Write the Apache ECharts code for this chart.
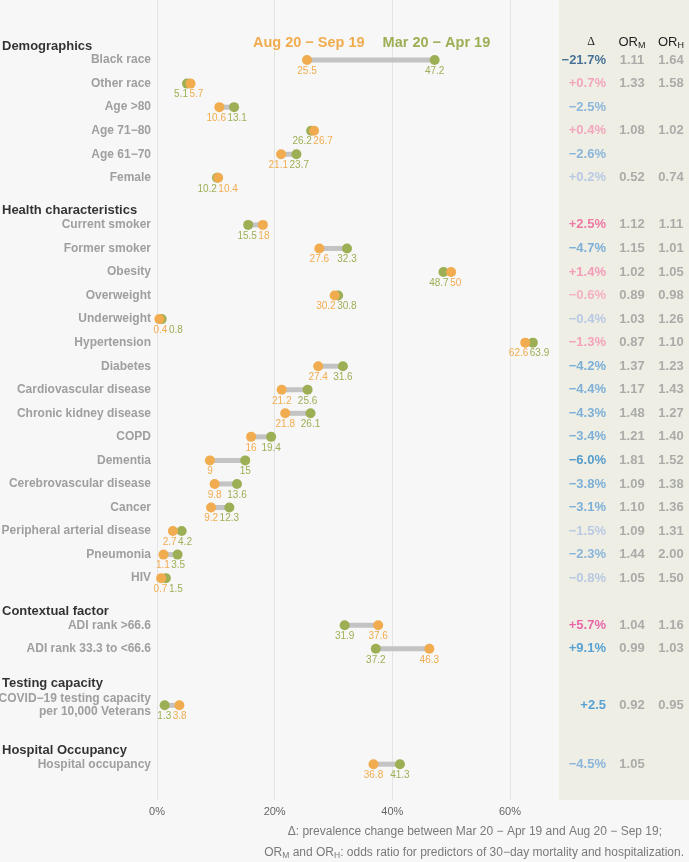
<!DOCTYPE html>
<html>
<head>
<meta charset="utf-8">
<script src="https://cdn.jsdelivr.net/npm/echarts@6/dist/echarts.min.js"></script>
<style>
  html, body { margin: 0; padding: 0; background: #f7f7f7; }
  #chart { width: 689px; height: 862px; }
</style>
</head>
<body>
<div id="chart"></div>
<script>
  // ---- data ----
  const groups = ['Demographics', 'Health characteristics', 'Contextual factor', 'Testing capacity', 'Hospital Occupancy']
  const groupOf = [0, 0, 0, 0, 0, 0,
    1, 1, 1, 1, 1, 1, 1, 1, 1, 1, 1, 1, 1, 1, 1, 1,
    2, 2, 3, 4]
  const variables = ['Black race', 'Other race', 'Age >80', 'Age 71\u221280', 'Age 61\u221270', 'Female',
    'Current smoker', 'Former smoker', 'Obesity', 'Overweight', 'Underweight', 'Hypertension', 'Diabetes',
    'Cardiovascular disease', 'Chronic kidney disease', 'COPD', 'Dementia', 'Cerebrovascular disease',
    'Cancer', 'Peripheral arterial disease', 'Pneumonia', 'HIV',
    'ADI rank >66.6', 'ADI rank 33.3 to <66.6',
    'COVID\u221219 testing capacity\nper 10,000 Veterans',
    'Hospital occupancy']
  const marApr = [47.2, 5.1, 13.1, 26.2, 23.7, 10.2,
    15.5, 32.3, 48.7, 30.8, 0.8, 63.9, 31.6, 25.6, 26.1, 19.4, 15, 13.6, 12.3, 4.2, 3.5, 1.5,
    31.9, 37.2, 1.3, 41.3]
  const augSep = [25.5, 5.7, 10.6, 26.7, 21.1, 10.4,
    18, 27.6, 50, 30.2, 0.4, 62.6, 27.4, 21.2, 21.8, 16, 9, 9.8, 9.2, 2.7, 1.1, 0.7,
    37.6, 46.3, 3.8, 36.8]
  const deltaText = ['\u221221.7%', '+0.7%', '\u22122.5%', '+0.4%', '\u22122.6%', '+0.2%',
    '+2.5%', '\u22124.7%', '+1.4%', '\u22120.6%', '\u22120.4%', '\u22121.3%', '\u22124.2%', '\u22124.4%',
    '\u22124.3%', '\u22123.4%', '\u22126.0%', '\u22123.8%', '\u22123.1%', '\u22121.5%', '\u22122.3%', '\u22120.8%',
    '+5.7%', '+9.1%', '+2.5', '\u22124.5%']
  const orM = ['1.11', '1.33', '', '1.08', '', '0.52',
    '1.12', '1.15', '1.02', '0.89', '1.03', '0.87', '1.37', '1.17', '1.48', '1.21', '1.81', '1.09', '1.10',
    '1.09', '1.44', '1.05', '1.04', '0.99', '0.92', '1.05']
  const orH = ['1.64', '1.58', '', '1.02', '', '0.74',
    '1.11', '1.01', '1.05', '0.98', '1.26', '1.10', '1.23', '1.43', '1.27', '1.40', '1.52', '1.38', '1.36',
    '1.31', '2.00', '1.50', '1.16', '1.03', '0.95', '']

  // ---- styles / layout ----
  const deltaColor = ['#1d5283', '#f393b3', '#70a8d8', '#f393b3', '#70a8d8', '#aabfe4',
    '#ef5a93', '#5fa0d4', '#f287ad', '#f5a1ba', '#aabfe4', '#f28eae', '#5fa0d4', '#5fa0d4',
    '#5fa0d4', '#5fa0d4', '#2e88c4', '#5fa0d4', '#5fa0d4', '#aabfe4', '#70a8d8', '#aabfe4',
    '#e8449a', '#2f8fd0', '#2f8fd0', '#70a8d8']
  const groupGap = [0, 1, 1, 1.4, 1.5]
  const ORANGE = '#f1ac4f'
  const GREEN = '#9caf55'
  const FONT = 'Liberation Sans'
  const LABEL_SIZE = 10
  const AUG = 'Aug 20 \u2212 Sep 19'
  const MAR = 'Mar 20 \u2212 Apr 19'

  // row positions (in row units) built from the group structure
  const pos = []
  let p = -1
  groupOf.forEach((g, i) => {
    p += (i === 0 || groupOf[i - 1] !== g) ? 1 + groupGap[g] : 1
    pos.push(p)
  })
  const headerPos = groups.map((g, gi) => {
    const i = groupOf.indexOf(gi)
    const lines = variables[i].split('\n').length
    return pos[i] - 0.6 - 0.35 * (lines - 1)
  })

  const chart = echarts.init(document.getElementById('chart'))

  const yAxisBase = { type: 'value', inverse: true, min: -2.55, max: 31.42, show: false }
  const dotLabel = (color) => ({
    show: true, position: 'bottom', distance: 1, color: color,
    fontSize: LABEL_SIZE, fontFamily: FONT,
    formatter: (prm) => String(prm.value[0])
  })

  const option = {
    backgroundColor: '#f7f7f7',
    animation: false,
    textStyle: { fontFamily: FONT },
    grid: [
      { left: 157, right: 132, top: 0, bottom: 62 },
      { left: 559, right: 0, top: 0, bottom: 62, show: true, backgroundColor: '#efeee4', borderWidth: 0 }
    ],
    xAxis: [
      {
        type: 'value', gridIndex: 0, min: 0, max: 68, interval: 20,
        axisLine: { show: false }, axisTick: { show: false },
        axisLabel: { showMaxLabel: false, formatter: '{value}%', color: '#666', fontSize: 11, margin: 6 },
        splitLine: { show: true, showMaxLine: false, lineStyle: { color: '#e4e4e4', width: 1 } }
      },
      { type: 'value', gridIndex: 1, min: 0, max: 130, show: false }
    ],
    yAxis: [
      Object.assign({ gridIndex: 0 }, yAxisBase),
      Object.assign({ gridIndex: 1 }, yAxisBase)
    ],
    legend: {
      data: [
        { name: AUG, textStyle: { color: ORANGE } },
        { name: MAR, textStyle: { color: GREEN } }
      ],
      left: 243, top: 30, itemWidth: 0, itemHeight: 0, itemGap: 13,
      selectedMode: false,
      textStyle: { fontSize: 14.5, fontWeight: 'bold', fontFamily: FONT }
    },
    graphic: [
      { type: 'text', x: 591, y: 42, style: { text: '\u0394', align: 'center', verticalAlign: 'middle', fill: '#222', font: '12px "Liberation Serif"' } },
      {
        type: 'text', x: 632, y: 42,
        style: {
          text: '{a|OR}{b|M}', align: 'center', verticalAlign: 'middle',
          rich: { a: { fontSize: 13, fill: '#222', fontFamily: FONT, lineHeight: 16 }, b: { fontSize: 9, fill: '#222', fontFamily: FONT, lineHeight: 16, verticalAlign: 'bottom', padding: [6, 0, 0, 0] } }
        }
      },
      {
        type: 'text', x: 671, y: 42,
        style: {
          text: '{a|OR}{b|H}', align: 'center', verticalAlign: 'middle',
          rich: { a: { fontSize: 13, fill: '#222', fontFamily: FONT, lineHeight: 16 }, b: { fontSize: 9, fill: '#222', fontFamily: FONT, lineHeight: 16, verticalAlign: 'bottom', padding: [6, 0, 0, 0] } }
        }
      },
      {
        type: 'text', x: 662, y: 832,
        style: { text: '\u0394: prevalence change between Mar 20 \u2212 Apr 19 and Aug 20 \u2212 Sep 19;', align: 'right', verticalAlign: 'middle', fill: '#7a7a7a', font: '12px "Liberation Sans"' }
      },
      {
        type: 'text', x: 684, y: 853,
        style: {
          text: '{a|OR}{s|M}{a| and OR}{s|H}{a|: odds ratio for predictors of 30\u2212day mortality and hospitalization.}',
          align: 'right', verticalAlign: 'middle',
          rich: { a: { fontSize: 12, fill: '#7a7a7a', fontFamily: FONT, lineHeight: 15 }, s: { fontSize: 8.5, fill: '#7a7a7a', fontFamily: FONT, lineHeight: 15, padding: [6, 0, 0, 0] } }
        }
      }
    ],
    series: [
      {
        type: 'custom', name: 'range', silent: true, xAxisIndex: 0, yAxisIndex: 0,
        data: variables.map((v, i) => [augSep[i], marApr[i], pos[i]]),
        encode: { x: [0, 1], y: 2 },
        renderItem: (params, api) => {
          const a = api.coord([api.value(0), api.value(2)])
          const b = api.coord([api.value(1), api.value(2)])
          return { type: 'line', shape: { x1: a[0], y1: a[1], x2: b[0], y2: b[1] }, style: { stroke: '#c3c3c3', lineWidth: 5 } }
        }
      },
      {
        type: 'scatter', name: MAR, symbolSize: 10, itemStyle: { color: GREEN, opacity: 1 },
        data: marApr.map((v, i) => [v, pos[i]]), label: dotLabel(GREEN)
      },
      {
        type: 'scatter', name: AUG, symbolSize: 10, itemStyle: { color: ORANGE, opacity: 1 },
        data: augSep.map((v, i) => [v, pos[i]]), label: dotLabel(ORANGE)
      },
      {
        type: 'scatter', name: 'names', silent: true, symbolSize: 0,
        data: variables.map((v, i) => ({ value: [0, pos[i]], name: v })),
        label: {
          show: true, position: 'left', distance: 6, align: 'right', formatter: '{b}',
          color: '#888', fontSize: 12, fontWeight: 'bold', lineHeight: 13, fontFamily: FONT
        }
      },
      {
        type: 'scatter', name: 'groups', silent: true, symbolSize: 0,
        data: groups.map((g, gi) => ({ value: [0, headerPos[gi]], name: g })),
        label: {
          show: true, position: 'left', distance: 155, align: 'left', formatter: '{b}',
          color: '#000', fontSize: 13, fontWeight: 'bold', fontFamily: FONT
        }
      },
      {
        type: 'scatter', name: 'delta', silent: true, symbolSize: 0, xAxisIndex: 1, yAxisIndex: 1,
        data: deltaText.map((t, i) => ({ value: [47, pos[i]], name: t, label: { color: deltaColor[i] } })),
        label: { show: true, position: 'inside', align: 'right', formatter: '{b}', fontSize: 13, fontWeight: 'bold', fontFamily: FONT }
      },
      {
        type: 'scatter', name: 'orM', silent: true, symbolSize: 0, xAxisIndex: 1, yAxisIndex: 1,
        data: orM.map((t, i) => ({ value: [73, pos[i]], name: t })),
        label: { show: true, position: 'inside', align: 'center', formatter: '{b}', color: '#9a9a9a', fontSize: 13, fontWeight: 'bold', fontFamily: FONT }
      },
      {
        type: 'scatter', name: 'orH', silent: true, symbolSize: 0, xAxisIndex: 1, yAxisIndex: 1,
        data: orH.map((t, i) => ({ value: [112, pos[i]], name: t })),
        label: { show: true, position: 'inside', align: 'center', formatter: '{b}', color: '#9a9a9a', fontSize: 13, fontWeight: 'bold', fontFamily: FONT }
      }
    ]
  }
  chart.setOption(option)

  // push apart value labels that would collide (like ggrepel)
  const ctx = document.createElement('canvas').getContext('2d')
  ctx.font = LABEL_SIZE + 'px "' + FONT + '"'
  const minLeft = 153.5
  const gap = 1.5
  const marData = []
  const augData = []
  variables.forEach((v, i) => {
    const xm = chart.convertToPixel({ gridIndex: 0 }, [marApr[i], pos[i]])[0]
    const xa = chart.convertToPixel({ gridIndex: 0 }, [augSep[i], pos[i]])[0]
    const wm = ctx.measureText(String(marApr[i])).width
    const wa = ctx.measureText(String(augSep[i])).width
    const marLow = marApr[i] <= augSep[i]
    const cl = marLow ? xm : xa
    const cr = marLow ? xa : xm
    const wl = marLow ? wm : wa
    const wr = marLow ? wa : wm
    const need = (wl + wr) / 2 + gap
    let dl = 0
    let dr = 0
    if (cr - cl < need) {
      const d = need - (cr - cl)
      dl = -d / 2
      dr = d / 2
      const over = minLeft - (cl + dl - wl / 2)
      if (over > 0) { dl += over; dr += over }
    }
    marData.push({ value: [marApr[i], pos[i]], label: { offset: [marLow ? dl : dr, 0] } })
    augData.push({ value: [augSep[i], pos[i]], label: { offset: [marLow ? dr : dl, 0] } })
  })
  chart.setOption({ series: [{}, { data: marData }, { data: augData }] })
</script>
</body>
</html>
